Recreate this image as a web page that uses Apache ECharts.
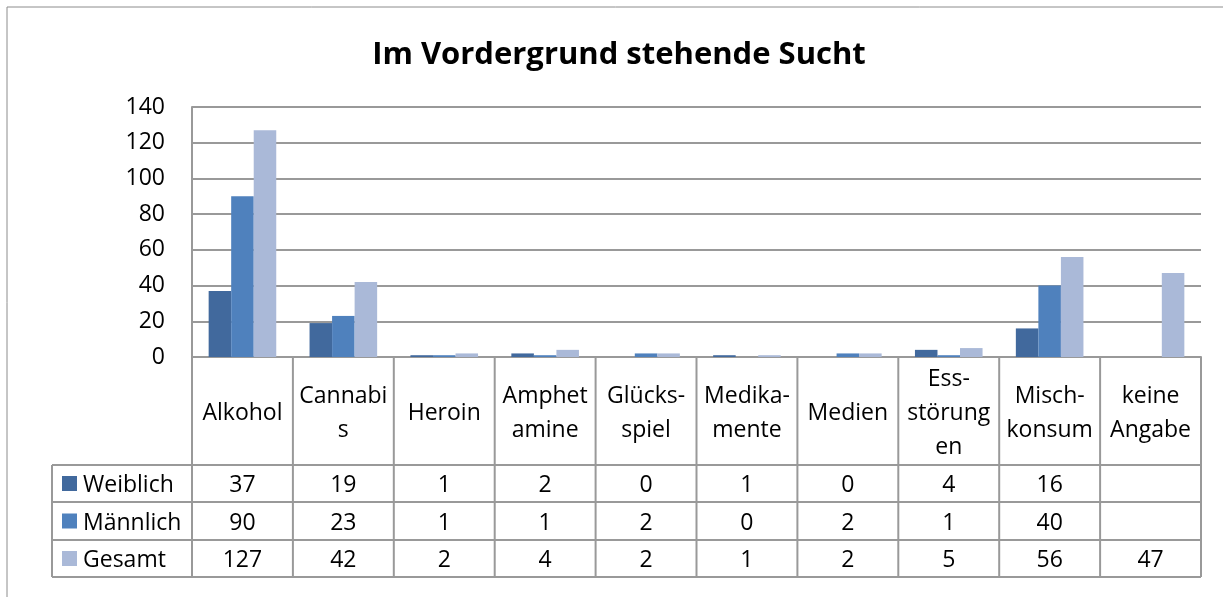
<!DOCTYPE html>
<html>
<head>
<meta charset="utf-8">
<script src="https://cdn.jsdelivr.net/npm/echarts@6/dist/echarts.min.js"></script>
<style>
html, body { margin: 0; padding: 0; background: #fff; }
#main { width: 1223px; height: 597px; }
</style>
</head>
<body>
<div id="main"></div>
<script>
// Kategorien und Werte
var categories = ['Alkohol', 'Cannabis', 'Heroin', 'Amphetamine', 'Glücksspiel',
    'Medikamente', 'Medien', 'Essstörungen', 'Mischkonsum', 'keine Angabe'];
var headerLabels = ['Alkohol', 'Cannabi\ns', 'Heroin', 'Amphet\namine', 'Glücks-\nspiel',
    'Medika-\nmente', 'Medien', 'Ess-\nstörung\nen', 'Misch-\nkonsum', 'keine\nAngabe'];
var seriesNames = ['Weiblich', 'Männlich', 'Gesamt'];
var weiblich = [37, 19, 1, 2, 0, 1, 0, 4, 16, null];
var maennlich = [90, 23, 1, 1, 2, 0, 2, 1, 40, null];
var gesamt = [127, 42, 2, 4, 2, 1, 2, 5, 56, 47];
var colors = ['#41699d', '#4f81bd', '#aab9d8'];

var font = '"Open Sans", sans-serif';
var lineColor = '#999999';

var gridLeft = 192, gridRight = 1201, gridTop = 107, gridBottom = 357;
var rowLines = [357, 465, 502, 540, 577];
var tableLeft = 52;

var myChart = echarts.init(document.getElementById('main'));

var option = {
    animation: false,
    color: colors,
    grid: {
        left: gridLeft,
        right: 1223 - gridRight,
        top: gridTop,
        bottom: 597 - gridBottom,
        containLabel: false
    },
    xAxis: {
        type: 'category',
        data: categories,
        axisLine: { show: true, lineStyle: { color: lineColor, width: 2 } },
        axisTick: { show: false },
        axisLabel: { show: false }
    },
    yAxis: {
        type: 'value',
        min: 0,
        max: 140,
        interval: 20,
        axisLine: { show: true, lineStyle: { color: lineColor, width: 2 } },
        axisTick: { show: false },
        axisLabel: { color: '#000', fontFamily: font, fontSize: 23, margin: 27 },
        splitLine: { lineStyle: { color: lineColor, width: 2 } }
    },
    series: [
        { name: seriesNames[0], type: 'bar', data: weiblich, barGap: 0, barCategoryGap: '33%' },
        { name: seriesNames[1], type: 'bar', data: maennlich, barGap: 0, barCategoryGap: '33%' },
        { name: seriesNames[2], type: 'bar', data: gesamt, barGap: 0, barCategoryGap: '33%' }
    ]
};

myChart.setOption(option);

// Datentabelle unter dem Diagramm
var graphics = [];
function line(x1, y1, x2, y2) {
    graphics.push({
        type: 'line', silent: true,
        shape: { x1: x1, y1: y1, x2: x2, y2: y2 },
        style: { stroke: lineColor, lineWidth: 2 }
    });
}
function text(str, x, y, align, size, weight) {
    graphics.push({
        type: 'text', silent: true, x: x, y: y + 2,
        style: {
            text: str, fill: '#000', font: (weight || 'normal') + ' ' + size + 'px ' + font,
            align: align, verticalAlign: 'middle', lineHeight: 34
        }
    });
}

// Rahmen und Titel
graphics.push({
    type: 'rect', silent: true,
    shape: { x: 7, y: 7, width: 1240, height: 620 },
    style: { fill: null, stroke: '#8c8c8c', lineWidth: 1 }
});
text('Im Vordergrund stehende Sucht', 619, 53, 'center', 31, 'bold');

var band = (gridRight - gridLeft) / categories.length;
// senkrechte Linien
line(gridLeft, gridBottom, gridLeft, rowLines[4]);
for (var i = 0; i < categories.length; i++) {
    line(gridLeft + (i + 1) * band, gridBottom, gridLeft + (i + 1) * band, rowLines[4]);
}
line(tableLeft, rowLines[1], tableLeft, rowLines[4]);
// waagerechte Linien
for (var r = 1; r < rowLines.length; r++) {
    line(tableLeft, rowLines[r], gridRight, rowLines[r]);
}

var rows = [weiblich, maennlich, gesamt];
for (var i = 0; i < categories.length; i++) {
    var cx = myChart.convertToPixel({ xAxisIndex: 0 }, i);
    text(headerLabels[i], cx, (rowLines[0] + rowLines[1]) / 2, 'center', 23);
    for (var r = 0; r < rows.length; r++) {
        var v = rows[r][i];
        if (v !== null) {
            text(String(v), cx, (rowLines[r + 1] + rowLines[r + 2]) / 2, 'center', 23);
        }
    }
}
for (var r = 0; r < seriesNames.length; r++) {
    var cy = (rowLines[r + 1] + rowLines[r + 2]) / 2;
    graphics.push({
        type: 'rect', silent: true,
        shape: { x: 62, y: cy - 7.5, width: 15, height: 15 },
        style: { fill: colors[r] }
    });
    text(seriesNames[r], 83, cy, 'left', 23);
}

myChart.setOption({ graphic: graphics });
</script>
</body>
</html>
